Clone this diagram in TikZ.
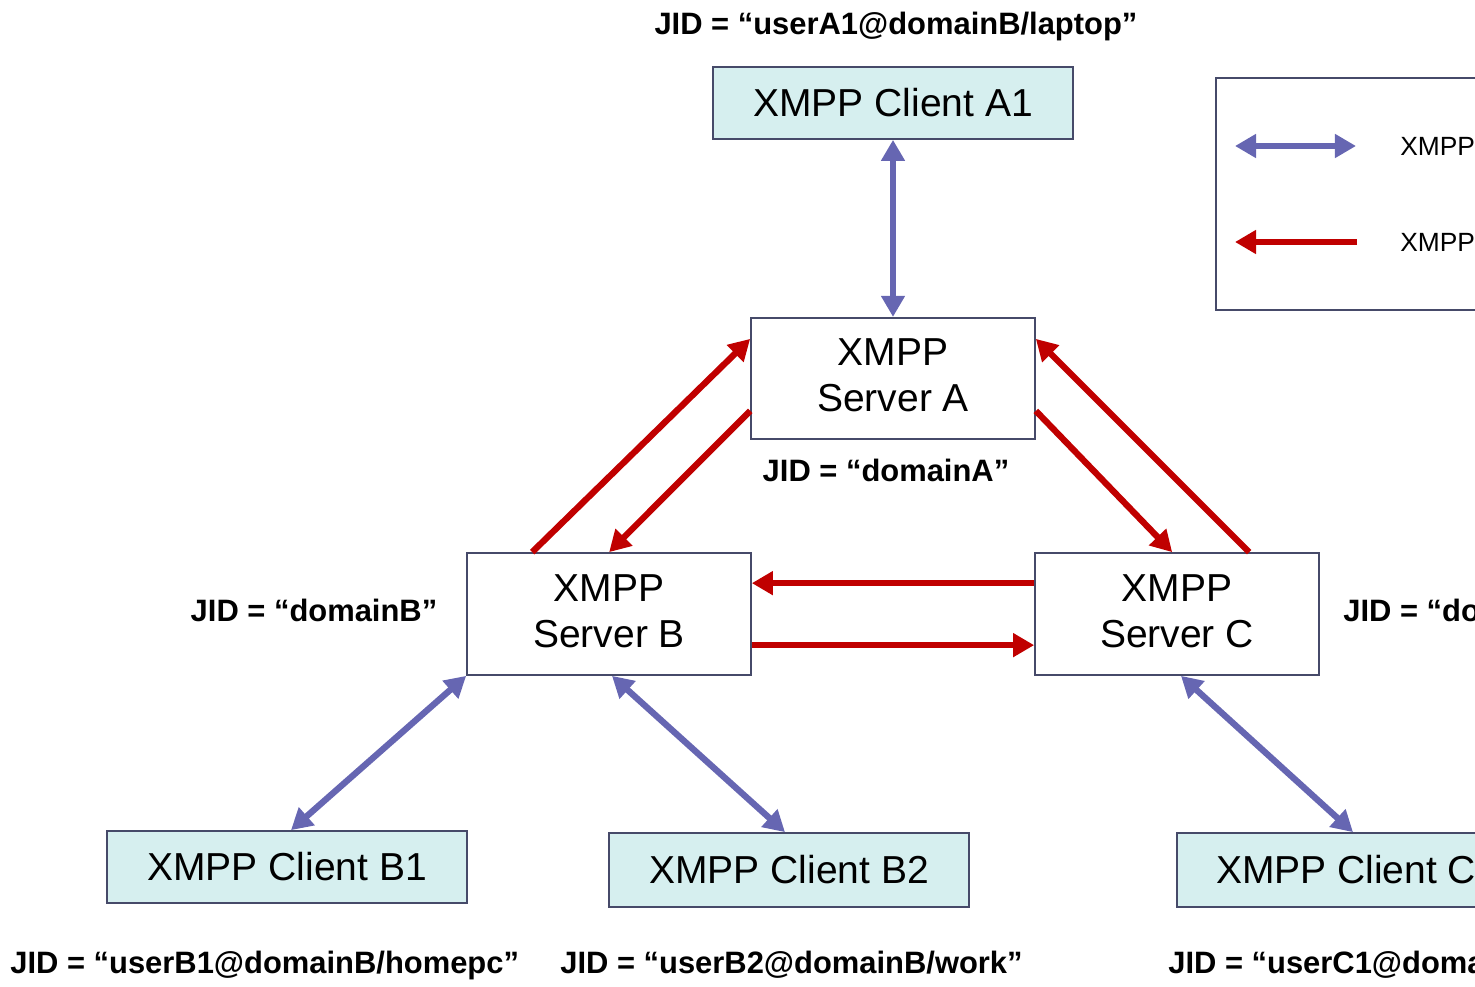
\documentclass[tikz,border=0pt]{standalone}
\usepackage{fontspec}
\setmainfont{Liberation Sans}
\usetikzlibrary{arrows.meta,calc}
\definecolor{boxfill}{RGB}{214,239,239}
\definecolor{boxline}{RGB}{70,74,105}
\definecolor{cblue}{RGB}{102,102,178}
\definecolor{cred}{RGB}{192,0,0}
\tikzset{
  client/.style={draw=boxline,line width=1pt,fill=boxfill,minimum width=7.2cm,minimum height=1.44cm,inner sep=0pt,font=\fontsize{22.2}{26}\selectfont},
  server/.style={draw=boxline,line width=1pt,fill=white,minimum width=5.68cm,minimum height=2.43cm,inner sep=0pt,align=center,font=\fontsize{22.2}{26}\selectfont},
  jid/.style={inner sep=0pt,font=\bfseries\fontsize{17.6}{20}\selectfont},
  leg/.style={inner sep=0pt,anchor=west,font=\fontsize{15}{18}\selectfont},
  c2s/.style={draw=cblue,line width=3.6pt,{Triangle[length=12pt,width=13pt]}-{Triangle[length=12pt,width=13pt]}},
  s2s/.style={draw=cred,line width=3.6pt,-{Triangle[length=12pt,width=13pt]}},
}
\begin{document}
\begin{tikzpicture}[x=0.02cm,y=-0.02cm]
\useasboundingbox (0,0) rectangle (1475,987);
\clip (0,0) rectangle (1475,987);
% nodes
\node[client] (cA1) at (893,103) {XMPP Client A1};
\node[server] (sA) at (893,378.5) {};
\node[server,minimum height=2.44cm] (sB) at (609,614) {};
\node[server,minimum height=2.44cm] (sC) at (1177,614) {};
\node[server,draw=none,fill=none,minimum width=0pt,minimum height=0pt] (tA) at (893,375) {XMPP\\Server A};
\node[server,draw=none,fill=none,minimum width=0pt,minimum height=0pt] (tB) at (609,611) {XMPP\\Server B};
\node[server,draw=none,fill=none,minimum width=0pt,minimum height=0pt] (tC) at (1177,611) {XMPP\\Server C};
\node[client] (cB1) at (287,867) {XMPP Client B1};
\node[client,minimum height=1.48cm] (cB2) at (789,870) {XMPP Client B2};
\node[client,minimum height=1.48cm] (cC1) at (1357,870) {XMPP Client C1};
% labels
\node[jid] (lA1) at (896,27) {JID = “userA1@domainB/laptop”};
\node[jid] (lA) at (886,470) {JID = “domainA”};
\node[jid] (lB) at (314,610) {JID = “domainB”};
\node[jid,anchor=west] (lC) at (1343,610) {JID = “domainC”};
\node[jid,anchor=west] (lB1) at (10,965) {JID = “userB1@domainB/homepc”};
\node[jid,anchor=west] (lB2) at (560,965) {JID = “userB2@domainB/work”};
\node[jid,anchor=west] (lC1) at (1168,965) {JID = “userC1@domainC/mobile”};
% legend
\node[draw=boxline,line width=1pt,minimum width=7.7cm,minimum height=4.64cm,anchor=north west,inner sep=0pt] (legend) at (1215,77) {};
\coordinate (l1a) at (1235,146);
\coordinate (l1b) at (1356,146);
\coordinate (l2a) at (1357,242);
\coordinate (l2b) at (1235,242);
\draw[c2s] (l1a) -- (l1b);
\draw[s2s] (l2a) -- (l2b);
\node[leg] (t1) at (1400,146) {XMPP Client-Server};
\node[leg] (t2) at (1400,242) {XMPP Server-Server};
% client-server connectors
\draw[c2s] (cA1.south) -- (sA.north);
\draw[c2s] ($(cB1.north)+(4,0)$) -- (sB.south west);
\draw[c2s] ($(sB.south)+(3,0)$) -- ($(cB2.north)+(-4,0)$);
\draw[c2s] ($(sC.south)+(4,0)$) -- ($(cC1.north)+(-4,0)$);
% server-server connectors
\draw[s2s] ($(sB.north west)+(66,0)$) -- ($(sA.north west)+(0,22)$);
\draw[s2s] ($(sA.north west)+(0,94)$) -- ($(sB.north west)+(143,0)$);
\draw[s2s] ($(sA.north east)+(0,94)$) -- ($(sC.north west)+(138,0)$);
\draw[s2s] ($(sC.north west)+(215,0)$) -- ($(sA.north east)+(0,22)$);
\draw[s2s] ($(sC.north west)+(0,31)$) -- ($(sB.north east)+(0,31)$);
\draw[s2s] ($(sB.north east)+(0,93)$) -- ($(sC.north west)+(0,93)$);
\end{tikzpicture}
\end{document}
